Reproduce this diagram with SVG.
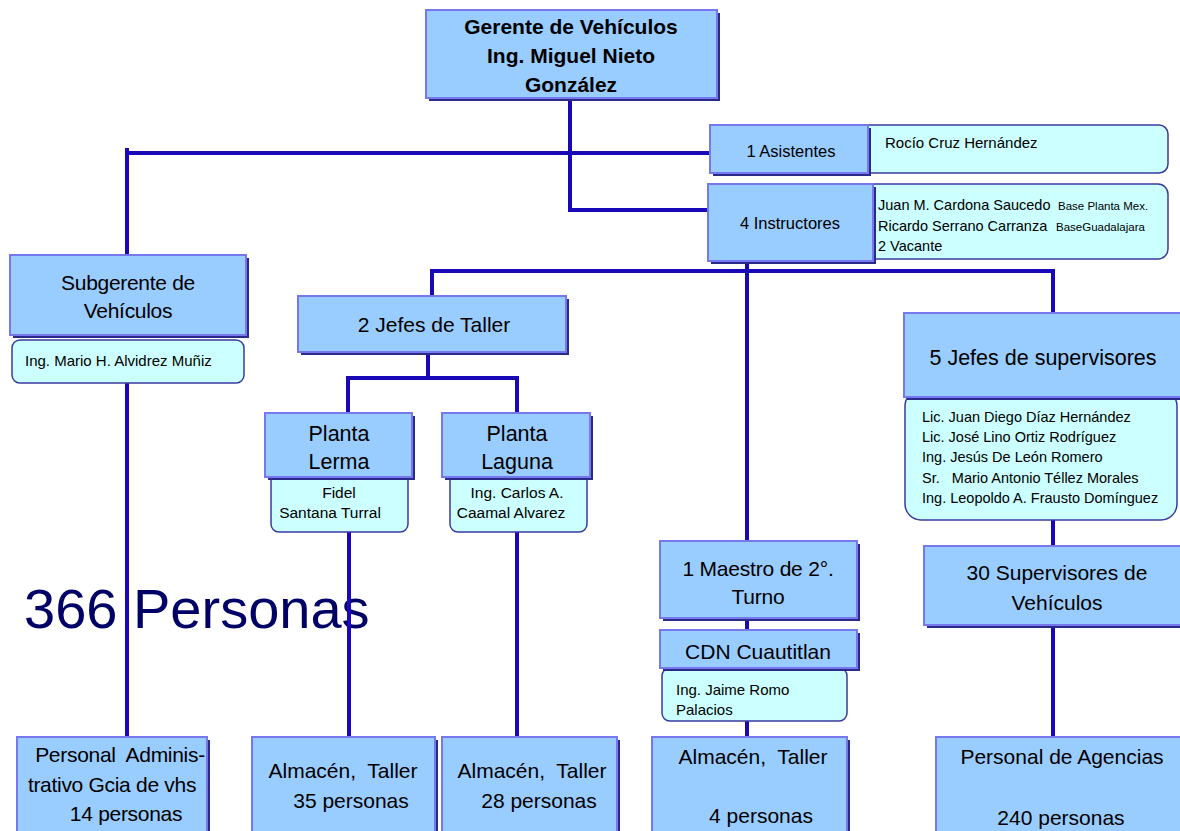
<svg xmlns="http://www.w3.org/2000/svg" width="1180" height="831" viewBox="0 0 1180 831">
<defs>
<style>
.b{fill:#99ccff;stroke:#7777ee;stroke-width:2}
.sh{fill:#2a2a8a}
.d{fill:#ccffff;stroke:#3a3aa0;stroke-width:1.5}
.t{font-family:"Liberation Sans",Arial,sans-serif;fill:#000;text-anchor:middle}
.tl{font-family:"Liberation Sans",Arial,sans-serif;fill:#000}
.c{stroke:#1a08b8;stroke-width:4;fill:none}
</style>
</defs>
<rect width="1180" height="831" fill="#fff"/>
<text x="24" y="628" font-family="Liberation Sans,Arial,sans-serif" font-size="56" fill="#000066">366 Personas</text>
<g id="connectors">
<path class="c" d="M570 98V210H710"/>
<path class="c" d="M125 153H710"/>
<path class="c" d="M127 148V256"/>
<path class="c" d="M127 383V738"/>
<path class="c" d="M432 298V271H1053V314"/>
<path class="c" d="M747 259V542"/>
<path class="c" d="M428 352V378M348 413V378H517V413"/>
<path class="c" d="M349 522V738"/>
<path class="c" d="M517 532V738"/>
<path class="c" d="M1053 520V547"/>
<path class="c" d="M1053 625V738"/>
<path class="c" d="M747 618V631M747 721V738"/>
</g>
<g id="gerente">
<rect class="sh" x="429" y="13" width="291" height="88"/>
<rect class="b" x="426" y="10" width="291" height="88"/>
<text class="t" font-weight="bold" font-size="21"><tspan x="571" y="34">Gerente de Vehículos</tspan><tspan x="571" y="63">Ing. Miguel Nieto</tspan><tspan x="571" y="92">González</tspan></text>
</g>
<g id="asistentes">
<rect class="d" x="860" y="125" width="308" height="48" rx="9"/>
<rect class="sh" x="713" y="128" width="158" height="48"/>
<rect class="b" x="710" y="125" width="158" height="48"/>
<text class="t" font-size="16.5" x="791" y="157">1 Asistentes</text>
<text class="tl" font-size="15" x="885" y="148">Rocío Cruz Hernández</text>
</g>
<g id="instructores">
<rect class="d" x="865" y="184" width="303" height="75" rx="10"/>
<rect class="sh" x="711" y="187" width="165" height="77"/>
<rect class="b" x="708" y="184" width="165" height="77"/>
<text class="t" font-size="16.5" x="790" y="229">4 Instructores</text>
<text class="tl" font-size="14.5"><tspan x="878" y="210">Juan M. Cardona Saucedo</tspan><tspan x="878" y="231">Ricardo Serrano Carranza</tspan><tspan x="878" y="251">2 Vacante</tspan></text>
<text class="tl" font-size="11.5"><tspan x="1058" y="210">Base Planta Mex.</tspan><tspan x="1056" y="231">BaseGuadalajara</tspan></text>
</g>
<g id="subgerente">
<rect class="sh" x="13" y="258" width="236" height="80"/>
<rect class="b" x="10" y="255" width="236" height="80"/>
<text class="t" font-size="21" letter-spacing="-0.3"><tspan x="128" y="290">Subgerente de</tspan><tspan x="128" y="318">Vehículos</tspan></text>
<rect class="d" x="12" y="340" width="232" height="43" rx="8"/>
<text class="tl" font-size="15" x="25" y="366">Ing. Mario H. Alvidrez Muñiz</text>
</g>
<g id="jefes-taller">
<rect class="sh" x="301" y="299" width="268" height="56"/>
<rect class="b" x="298" y="296" width="268" height="56"/>
<text class="t" font-size="21" x="434" y="332">2 Jefes de Taller</text>
</g>
<g id="planta-lerma">
<rect class="d" x="271" y="472" width="137" height="60" rx="8"/>
<rect class="sh" x="268" y="416" width="147" height="64"/>
<rect class="b" x="265" y="413" width="147" height="64"/>
<text class="t" font-size="21.5"><tspan x="339" y="441">Planta</tspan><tspan x="339" y="469">Lerma</tspan></text>
<text class="t" font-size="15.5"><tspan x="339" y="498">Fidel</tspan><tspan x="330" y="518">Santana Turral</tspan></text>
</g>
<g id="planta-laguna">
<rect class="d" x="450" y="472" width="137" height="60" rx="8"/>
<rect class="sh" x="445" y="416" width="148" height="64"/>
<rect class="b" x="442" y="413" width="148" height="64"/>
<text class="t" font-size="21.5"><tspan x="517" y="441">Planta</tspan><tspan x="517" y="469">Laguna</tspan></text>
<text class="t" font-size="15.5"><tspan x="517" y="498">Ing. Carlos A.</tspan><tspan x="511" y="518">Caamal Alvarez</tspan></text>
</g>
<g id="jefes-supervisores">
<rect class="d" x="905" y="390" width="272" height="130" rx="16"/>
<rect class="sh" x="907" y="316" width="276" height="84"/>
<rect class="b" x="904" y="313" width="280" height="84"/>
<text class="t" font-size="21.5" x="1043" y="365">5 Jefes de supervisores</text>
<text class="tl" font-size="14.5"><tspan x="922" y="422">Lic. Juan Diego Díaz Hernández</tspan><tspan x="922" y="442">Lic. José Lino Ortiz Rodríguez</tspan><tspan x="922" y="462">Ing. Jesús De León Romero</tspan><tspan x="922" y="483" xml:space="preserve">Sr.   Mario Antonio Téllez Morales</tspan><tspan x="922" y="503">Ing. Leopoldo A. Frausto Domínguez</tspan></text>
</g>
<g id="supervisores">
<rect class="sh" x="927" y="549" width="256" height="79"/>
<rect class="b" x="924" y="546" width="260" height="79"/>
<text class="t" font-size="21"><tspan x="1057" y="580">30 Supervisores de</tspan><tspan x="1057" y="610">Vehículos</tspan></text>
</g>
<g id="maestro">
<rect class="sh" x="663" y="544" width="197" height="77"/>
<rect class="b" x="660" y="541" width="197" height="77"/>
<text class="t" font-size="21" letter-spacing="-0.2"><tspan x="758" y="576">1 Maestro de 2°.</tspan><tspan x="758" y="604">Turno</tspan></text>
</g>
<g id="cdn">
<rect class="d" x="662" y="668" width="185" height="53" rx="8"/>
<rect class="sh" x="663" y="633" width="197" height="38"/>
<rect class="b" x="660" y="630" width="197" height="38"/>
<text class="t" font-size="21" x="758" y="659">CDN Cuautitlan</text>
<text class="tl" font-size="15"><tspan x="676" y="695">Ing. Jaime Romo</tspan><tspan x="676" y="715">Palacios</tspan></text>
</g>
<g id="personal-admin">
<rect class="sh" x="20" y="740" width="190" height="100"/>
<rect class="b" x="17" y="737" width="190" height="100"/>
<text class="t" font-size="21" letter-spacing="-0.3" xml:space="preserve"><tspan x="120" y="762">Personal  Adminis-</tspan><tspan x="112" y="792">trativo Gcia de vhs</tspan><tspan x="126" y="821">14 personas</tspan></text>
</g>
<g id="almacen-35">
<rect class="sh" x="255" y="740" width="183" height="100"/>
<rect class="b" x="252" y="737" width="183" height="100"/>
<text class="t" font-size="21" xml:space="preserve"><tspan x="343" y="778">Almacén,  Taller</tspan><tspan x="351" y="808">35 personas</tspan></text>
</g>
<g id="almacen-28">
<rect class="sh" x="445" y="740" width="175" height="100"/>
<rect class="b" x="442" y="737" width="175" height="100"/>
<text class="t" font-size="21" xml:space="preserve"><tspan x="532" y="778">Almacén,  Taller</tspan><tspan x="539" y="808">28 personas</tspan></text>
</g>
<g id="almacen-4">
<rect class="sh" x="655" y="740" width="195" height="100"/>
<rect class="b" x="652" y="737" width="195" height="100"/>
<text class="t" font-size="21" xml:space="preserve"><tspan x="753" y="764">Almacén,  Taller</tspan><tspan x="761" y="823">4 personas</tspan></text>
</g>
<g id="agencias">
<rect class="sh" x="939" y="740" width="245" height="100"/>
<rect class="b" x="936" y="737" width="246" height="100"/>
<text class="t" font-size="21"><tspan x="1062" y="764">Personal de Agencias</tspan><tspan x="1061" y="825">240 personas</tspan></text>
</g>
</svg>
